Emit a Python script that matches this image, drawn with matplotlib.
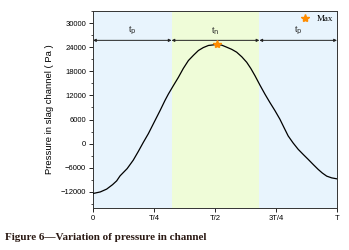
import matplotlib
matplotlib.use("Agg")
import matplotlib.pyplot as plt
from matplotlib.ticker import MultipleLocator

# Data (x in fractions of period T)
t_frac = [0.0, 0.03, 0.056, 0.08, 0.097, 0.111, 0.14, 0.165, 0.186, 0.206, 0.227, 0.247,
          0.275, 0.295, 0.309, 0.330, 0.350, 0.370, 0.391, 0.412, 0.432, 0.452, 0.473,
          0.507, 0.528, 0.548, 0.569, 0.589, 0.610, 0.630, 0.647, 0.664, 0.684, 0.705,
          0.725, 0.746, 0.766, 0.783, 0.800, 0.820, 0.841, 0.862, 0.882, 0.903, 0.923,
          0.940, 0.958, 0.978, 1.0]
pressure = [-12400, -12000, -11300, -10200, -9250, -8000, -6200, -4100, -1900, 300, 2500, 4900,
            8250, 10750, 12350, 14500, 16500, 18700, 20675, 22000, 23175, 23900, 24425,
            24675, 24500, 24000, 23450, 22750, 21600, 20250, 18700, 16900, 14600, 12300,
            10250, 8200, 6100, 4000, 1925, 200, -1400, -2700, -3900, -5200, -6400,
            -7300, -8075, -8500, -8750]
max_point = (0.507, 24700)
region_bounds = [0.0, 0.322, 0.682, 1.0]
region_labels = [r"t$_\mathrm{p}$", r"t$_\mathrm{n}$", r"t$_\mathrm{p}$"]
xtick_vals = [0, 0.25, 0.5, 0.75, 1.0]
xtick_labels = ["0", "T/4", "T/2", "3T/4", "T"]
ytick_vals = list(range(-12000, 30001, 6000))

fig = plt.figure(figsize=(3.49, 2.5), dpi=100)
ax = fig.add_axes([0.2665, 0.168, 0.699, 0.788])

blue = "#e8f4fd"
green = "#effcd8"
cols = [blue, green, blue]
for i in range(3):
    ax.axvspan(region_bounds[i], region_bounds[i + 1], color=cols[i], lw=0, zorder=0)

ax.plot(t_frac, pressure, color="black", lw=0.9, zorder=3)
ax.plot([max_point[0]], [max_point[1]], marker="*", color="#ff8c00", ms=6, ls="none",
        zorder=4, label="Max")

arrow_y = 25700
for i in range(3):
    ax.annotate("", xy=(region_bounds[i], arrow_y), xytext=(region_bounds[i + 1], arrow_y),
                arrowprops=dict(arrowstyle="<|-|>", color="#222222", lw=0.7,
                                mutation_scale=4, shrinkA=0, shrinkB=0), zorder=2)
    ax.text((region_bounds[i] + region_bounds[i + 1]) / 2, arrow_y + 900, region_labels[i],
            ha="center", va="bottom", fontsize=7, family="Liberation Serif", color="#222222")

ax.set_xlim(0, 1)
ax.set_ylim(-16000, 33000)
ax.set_xticks(xtick_vals)
ax.set_xticklabels(xtick_labels)
ax.set_yticks(ytick_vals)
ax.yaxis.set_minor_locator(MultipleLocator(3000))
ax.tick_params(axis="both", labelsize=5.5, length=3, width=0.6, pad=2, direction="out")
ax.tick_params(axis="y", which="minor", length=1.8, width=0.5)
for lab in ax.get_xticklabels() + ax.get_yticklabels():
    lab.set_family("Liberation Sans")
for s in ax.spines.values():
    s.set_linewidth(0.7)
    s.set_color("#333333")

ax.set_ylabel("Pressure in slag channel ( Pa )", fontsize=6.8, family="Liberation Sans", labelpad=5)

leg = ax.legend(loc="upper right", frameon=False,
                borderpad=0.3, handlelength=1.0, handletextpad=0.8, borderaxespad=0.1,
                prop={"family": "Liberation Serif", "size": 6.5})

fig.text(0.014, 0.052, "Figure 6\u2014Variation of pressure in channel", fontsize=8,
         family="Liberation Serif", weight="bold", color="#2b1a14", ha="left", va="center")

fig.savefig("out.png", dpi=100)
